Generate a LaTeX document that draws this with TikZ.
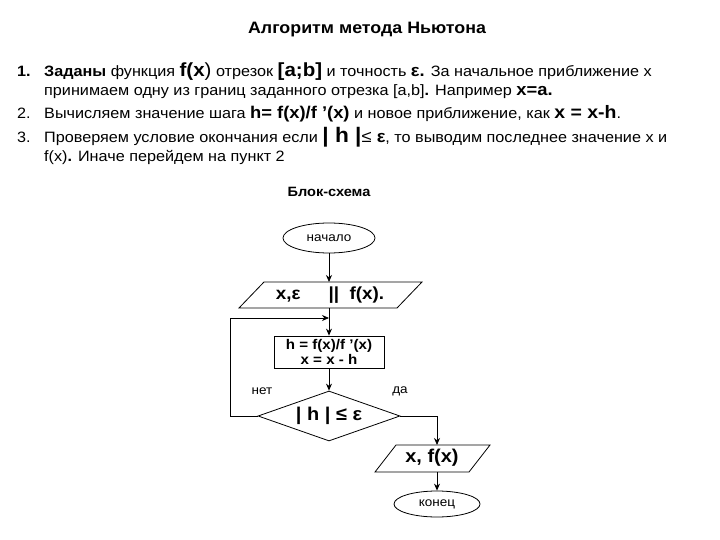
\documentclass[tikz,border=0pt]{standalone}
\usepackage{fontspec}
\setmainfont{Liberation Sans}[FakeStretch=1.08]
\usetikzlibrary{shapes.geometric,arrows.meta}
\begin{document}
\begin{tikzpicture}[x=1pt,y=-1pt,
  ln/.style={anchor=base west,inner sep=0pt,font=\fontsize{15}{17}\selectfont},
  box/.style={draw,thick},
  arr/.style={-{Stealth[length=7pt,width=6pt]},thick},
  lbl/.style={font=\fontsize{12.5}{14}\selectfont,inner sep=0pt}]
\useasboundingbox (0,0) rectangle (720,540);
\node[font=\bfseries\fontsize{16.5}{19}\selectfont] (title) at (367,30) {Алгоритм метода Ньютона};
\node[ln] (n1) at (17,77) {\textbf{1.}};
\node[ln] (t1) at (44,77) {\textbf{Заданы} функция {\fontsize{19}{17}\selectfont\textbf{f(x})} отрезок {\fontsize{19}{17}\selectfont\textbf{[a;b]}} и точность {\fontsize{17}{17}\selectfont\textbf{ε.}} За начальное приближение х};
\node[ln] (t1b) at (44,96) {принимаем одну из границ заданного отрезка [a,b]\textbf{.} Например {\fontsize{17}{17}\selectfont\textbf{x=a.}}};
\node[ln] (n2) at (17,119) {2.};
\node[ln] (t2) at (44,119) {Вычисляем значение шага {\fontsize{17}{17}\selectfont\textbf{h= f(x)/f ’(x)}} и новое приближение, как {\fontsize{18}{17}\selectfont\textbf{x = x-h}}.};
\node[ln] (n3) at (17,143) {3.};
\node[ln] (t3) at (44,143) {Проверяем условие окончания если {\fontsize{21}{17}\selectfont\textbf{| h |}}{\fontsize{17}{17}\selectfont≤ \textbf{ε}}, то выводим последнее значение x и};
\node[ln] (t3b) at (44,162) {f(x)\textbf{.} Иначе перейдем на пункт 2};
\node[font=\bfseries\fontsize{13.5}{15}\selectfont] (bs) at (329,192) {Блок-схема};
% start
\node[box,ellipse,minimum width=92pt,minimum height=30pt,inner sep=0pt,font=\fontsize{12.5}{14}\selectfont] (start) at (329,238) {начало};
% input parallelogram
\draw[box] (239,308) -- (264,282) -- (422,282) -- (397,308) -- cycle;
\node[font=\bfseries\fontsize{17.5}{19}\selectfont,minimum width=140pt,minimum height=26pt,inner sep=0pt] (in) at (330,295) {x,ε\quad\ \ ||\ \ f(x).};
% process
\node[box,minimum width=110pt,minimum height=32pt,inner sep=0pt,align=center,font=\bfseries\fontsize{14}{15}\selectfont] (proc) at (329,352) {h = f(x)/f ’(x)\\x = x - h};
% decision
\node[box,diamond,aspect=2.85,minimum width=142pt,minimum height=50pt,inner sep=0pt,font=\bfseries\fontsize{18.5}{20}\selectfont] (dec) at (329,416) {| h | ≤ ε};
% output
\draw[box] (375,472) -- (396,445) -- (490,445) -- (469,472) -- cycle;
\node[font=\bfseries\fontsize{18.5}{20}\selectfont,minimum width=90pt,minimum height=27pt,inner sep=0pt] (out) at (432,458) {x, f(x)};
\node[box,ellipse,minimum width=86pt,minimum height=26pt,inner sep=0pt,font=\fontsize{12.5}{14}\selectfont] (end) at (437,504) {конец};
\coordinate (loopA) at (230,416);
\coordinate (loopB) at (230,318);
\coordinate (join) at (329,318);
\coordinate (yesC) at (437,416);
\draw[arr] (start) -- (329,282);
\draw[arr] (329,308) -- (proc.north);
\draw[arr] (proc.south) -- (dec.north);
\draw[arr] (dec.west) -- (loopA) -- (loopB) -- (join);
\draw[arr] (dec.east) -- (yesC) -- (437,445);
\draw[arr] (437,472) -- (end.north);
\node[lbl] (no) at (262,391) {нет};
\node[lbl] (yes) at (400,391) {да};
\end{tikzpicture}
\end{document}
